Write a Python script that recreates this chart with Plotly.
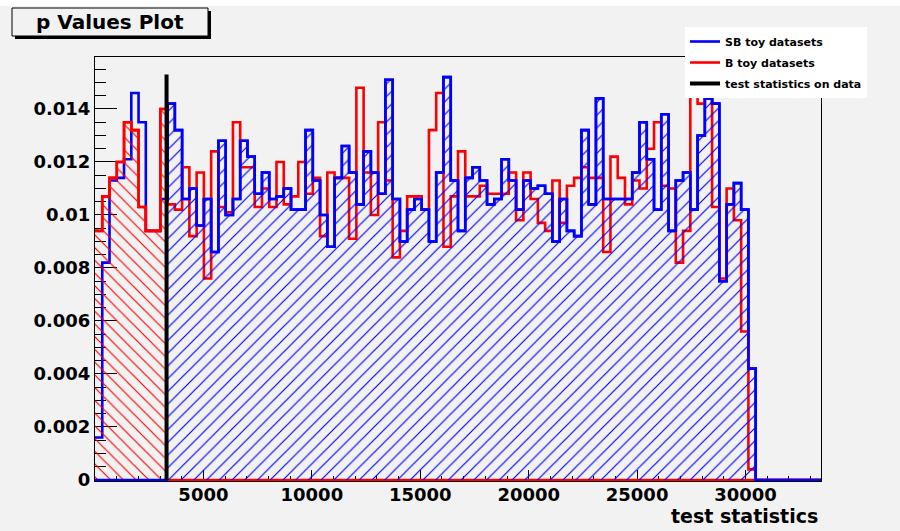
import numpy as np
import plotly.graph_objects as go

# ---------------- data ----------------
x_min = 0.0
x_max = 33480.0
n_bins = 100
data_value = 3300.0

sb_values = [
    0.0016, 0.0082, 0.0113, 0.0114, 0.0121, 0.0146, 0.0135, 0.0094, 0.0094, 0.0106,
    0.0142, 0.0132, 0.0106, 0.0110, 0.0096, 0.0106, 0.0086, 0.0128, 0.0100, 0.0106,
    0.0128, 0.0122, 0.0108, 0.0116, 0.0106, 0.0107, 0.0110, 0.0102, 0.0102, 0.0132,
    0.0113, 0.0100, 0.0088, 0.0114, 0.0126, 0.0116, 0.0104, 0.0124, 0.0116, 0.0108,
    0.0151, 0.0106, 0.0090, 0.0102, 0.0106, 0.0102, 0.0090, 0.0116, 0.0152, 0.0113,
    0.0094, 0.0114, 0.0118, 0.0113, 0.0104, 0.0106, 0.0121, 0.0113, 0.0102, 0.0113,
    0.0110, 0.0111, 0.0108, 0.0090, 0.0106, 0.0094, 0.0092, 0.0132, 0.0104, 0.0144,
    0.0106, 0.0106, 0.0106, 0.0106, 0.0116, 0.0135, 0.0121, 0.0102, 0.0138, 0.0094,
    0.0113, 0.0116, 0.0102, 0.0130, 0.0144, 0.0142, 0.0075, 0.0104, 0.0112, 0.0102,
    0.0042, 0, 0, 0, 0, 0, 0, 0, 0, 0,
]

b_values = [
    0.0094, 0.0107, 0.0114, 0.0120, 0.0135, 0.0132, 0.0103, 0.0094, 0.0094, 0.0140,
    0.0104, 0.0102, 0.0118, 0.0092, 0.0116, 0.0076, 0.0124, 0.0103, 0.0101, 0.0135,
    0.0118, 0.0118, 0.0103, 0.0110, 0.0103, 0.0120, 0.0104, 0.0107, 0.0120, 0.0108,
    0.0114, 0.0092, 0.0116, 0.0114, 0.0114, 0.0091, 0.0148, 0.0116, 0.0100, 0.0135,
    0.0113, 0.0084, 0.0094, 0.0107, 0.0107, 0.0102, 0.0132, 0.0146, 0.0088, 0.0107,
    0.0124, 0.0107, 0.0107, 0.0111, 0.0108, 0.0108, 0.0108, 0.0116, 0.0098, 0.0116,
    0.0106, 0.0097, 0.0094, 0.0113, 0.0097, 0.0111, 0.0114, 0.0118, 0.0114, 0.0114,
    0.0086, 0.0122, 0.0114, 0.0104, 0.0113, 0.0110, 0.0125, 0.0135, 0.0111, 0.0110,
    0.0082, 0.0094, 0.0153, 0.0142, 0.0148, 0.0103, 0.0076, 0.0110, 0.0098, 0.0056,
    0.0004, 0, 0, 0, 0, 0, 0, 0, 0, 0,
]

x_tick_vals = [5000, 10000, 15000, 20000, 25000, 30000]
x_tick_text = ["5000", "10000", "15000", "20000", "25000", "30000"]
y_tick_vals = [0, 0.002, 0.004, 0.006, 0.008, 0.010, 0.012, 0.014]
y_tick_text = ["0", "0.002", "0.004", "0.006", "0.008", "0.01", "0.012", "0.014"]

series_names = ["SB toy datasets", "B toy datasets", "test statistics on data"]
title_text = "p Values Plot"
x_title = "test statistics"

# ---------------- derived arrays ----------------
edges = np.linspace(x_min, x_max, n_bins + 1)
k = int(np.searchsorted(edges, data_value, side="right") - 1)  # bin containing data


def step_xy(vals):
    return list(edges), list(vals) + [vals[-1]]


sb_x, sb_y = step_xy(sb_values)
b_x, b_y = step_xy(b_values)

# B shaded below data value, SB shaded above data value
b_sh_x = list(edges[: k + 1]) + [data_value, x_max]
b_sh_y = list(b_values[: k + 1]) + [0, 0]
sb_sh_x = [x_min, data_value] + list(edges[k + 1:])
sb_sh_y = [0, sb_values[k]] + list(sb_values[k + 1:]) + [sb_values[-1]]

y_peak = max(max(sb_values), max(b_values))

BLUE = "#0000ff"
RED = "#ff0000"
FONT = "DejaVu Sans"

fig = go.Figure()
fig.add_trace(go.Scatter(x=sb_x, y=sb_y, mode="lines", line=dict(color=BLUE, width=2.6, shape="hv"),
                         name=series_names[0], legendgroup="a"))
fig.add_trace(go.Scatter(x=b_x, y=b_y, mode="lines", line=dict(color=RED, width=2.6, shape="hv"),
                         name=series_names[1], legendgroup="b"))
fig.add_trace(go.Scatter(x=b_sh_x, y=b_sh_y, mode="lines", line=dict(color=RED, width=2.6, shape="hv"),
                         fill="tozeroy", fillcolor="rgba(0,0,0,0)",
                         fillpattern=dict(shape="\\", fgcolor=RED, fgopacity=1, bgcolor="rgba(0,0,0,0)",
                                          size=9, solidity=0.13),
                         showlegend=False, hoverinfo="skip"))
fig.add_trace(go.Scatter(x=sb_sh_x, y=sb_sh_y, mode="lines", line=dict(color=BLUE, width=2.6, shape="hv"),
                         fill="tozeroy", fillcolor="rgba(0,0,0,0)",
                         fillpattern=dict(shape="/", fgcolor=BLUE, fgopacity=1, bgcolor="rgba(0,0,0,0)",
                                          size=9, solidity=0.13),
                         showlegend=False, hoverinfo="skip"))
fig.add_trace(go.Scatter(x=[data_value, data_value], y=[0, y_peak], mode="lines",
                         line=dict(color="black", width=4), name=series_names[2], legendgroup="c"))

# pixel geometry helpers
W, H = 900, 531
ML, MR, MT, MB = 95, 79, 57, 50
PW, PH = W - ML - MR, H - MT - MB


def px(xp):
    return (xp - ML) / PW


def py(yp):
    return (H - MB - yp) / PH


BG = "#f2f2f2"

fig.update_layout(
    width=W, height=H,
    margin=dict(l=ML, r=MR, t=MT, b=MB, pad=0),
    paper_bgcolor=BG, plot_bgcolor=BG,
    showlegend=True,
    legend=dict(x=px(685), y=py(27), xanchor="left", yanchor="top",
                bgcolor="white", borderwidth=0, tracegroupgap=2,
                font=dict(family=FONT, size=11, color="black", weight="bold")),
    xaxis=dict(range=[x_min, x_max], showline=True, linecolor="black", linewidth=1, mirror=True,
               showgrid=False, zeroline=False, ticks="inside", ticklen=11, tickwidth=1, tickcolor="black",
               tickvals=x_tick_vals, ticktext=x_tick_text, layer="below traces", ticklabelstandoff=-3,
               tickfont=dict(family=FONT, size=18, color="black", weight="bold"),
               minor=dict(ticks="inside", ticklen=5, dtick=1000, tick0=0, tickcolor="black", showgrid=False)),
    yaxis=dict(range=[-0.00004, 0.01596], showline=True, linecolor="black", linewidth=1, mirror=True,
               showgrid=False, zeroline=False, ticks="inside", ticklen=22, tickwidth=1, tickcolor="black",
               tickvals=y_tick_vals, ticktext=y_tick_text, layer="below traces",
               tickfont=dict(family=FONT, size=18, color="black", weight="bold"),
               minor=dict(ticks="inside", ticklen=11, dtick=0.0005, tick0=0, tickcolor="black", showgrid=False)),
    shapes=[
        dict(type="rect", xref="paper", yref="paper", x0=px(0), x1=px(W), y0=py(6), y1=py(0),
             fillcolor="white", line=dict(width=0), layer="below"),
        dict(type="rect", xref="paper", yref="paper", x0=px(15), x1=px(211), y0=py(39), y1=py(11),
             fillcolor="black", line=dict(width=0)),
        dict(type="rect", xref="paper", yref="paper", x0=px(12), x1=px(208), y0=py(36), y1=py(8),
             fillcolor=BG, line=dict(color="black", width=1)),
    ],
    annotations=[
        dict(text=title_text, xref="paper", yref="paper", x=px(110), y=py(22), xanchor="center",
             yanchor="middle", showarrow=False,
             font=dict(family=FONT, size=20, color="black", weight="bold")),
        dict(text=x_title, xref="paper", yref="paper", x=px(820), y=py(516), xanchor="right",
             yanchor="middle", showarrow=False,
             font=dict(family=FONT, size=19, color="black", weight="bold")),
    ],
)

fig.write_html("out.html")
